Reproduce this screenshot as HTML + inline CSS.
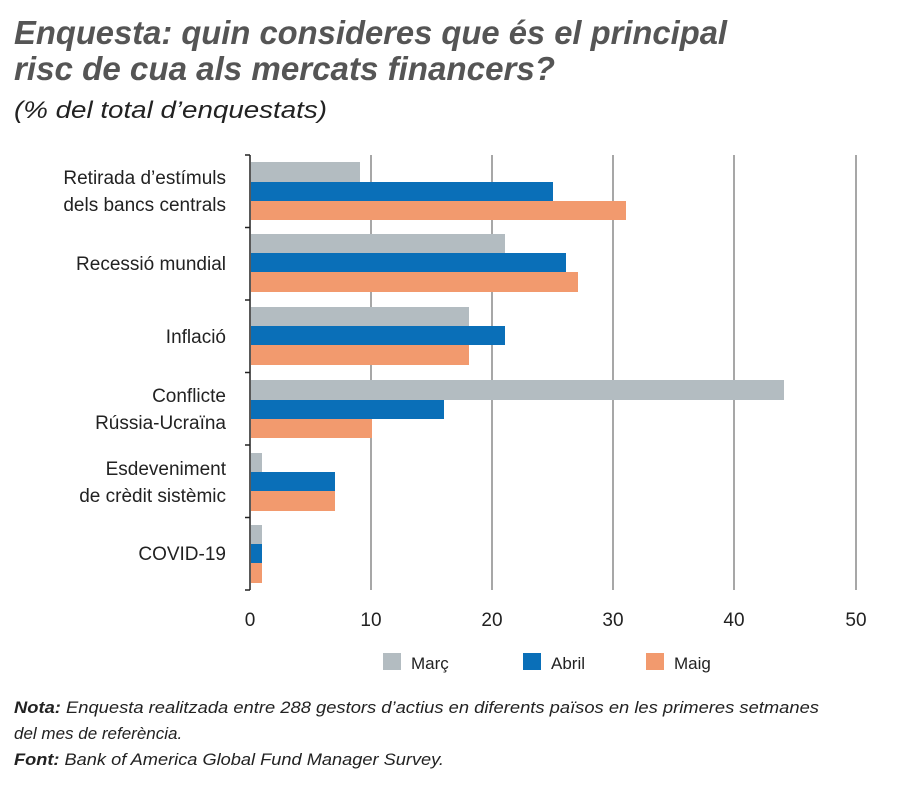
<!DOCTYPE html>
<html><head><meta charset="utf-8"><style>
body{margin:0;width:900px;height:789px;background:#fff;overflow:hidden;font-family:"Liberation Sans",sans-serif;}
</style></head><body>
<svg width="900" height="789" xmlns="http://www.w3.org/2000/svg" font-family="Liberation Sans, sans-serif">
<text x="14" y="44" font-size="33" font-weight="bold" font-style="italic" fill="#555" textLength="713" lengthAdjust="spacingAndGlyphs">Enquesta: quin consideres que és el principal</text>
<text x="14" y="80" font-size="33" font-weight="bold" font-style="italic" fill="#555" textLength="541" lengthAdjust="spacingAndGlyphs">risc de cua als mercats financers?</text>
<text x="14" y="118" font-size="24" font-style="italic" fill="#222" textLength="313" lengthAdjust="spacingAndGlyphs">(% del total d’enquestats)</text>
<g stroke="#8a8a8a" stroke-width="1.5">
<line x1="371" y1="155" x2="371" y2="590"/><line x1="492" y1="155" x2="492" y2="590"/>
<line x1="613" y1="155" x2="613" y2="590"/><line x1="734" y1="155" x2="734" y2="590"/>
<line x1="856" y1="155" x2="856" y2="590"/>
</g>
<g>
<rect x="251" y="162" width="109" height="20" fill="#b3bcc1"/>
<rect x="251" y="182" width="302" height="19" fill="#0a6fb8"/>
<rect x="251" y="201" width="375" height="19" fill="#f29a6e"/>
<rect x="251" y="234" width="254" height="19" fill="#b3bcc1"/>
<rect x="251" y="253" width="315" height="19" fill="#0a6fb8"/>
<rect x="251" y="272" width="327" height="20" fill="#f29a6e"/>
<rect x="251" y="307" width="218" height="19" fill="#b3bcc1"/>
<rect x="251" y="326" width="254" height="19" fill="#0a6fb8"/>
<rect x="251" y="345" width="218" height="20" fill="#f29a6e"/>
<rect x="251" y="380" width="533" height="20" fill="#b3bcc1"/>
<rect x="251" y="400" width="193" height="19" fill="#0a6fb8"/>
<rect x="251" y="419" width="121" height="19" fill="#f29a6e"/>
<rect x="251" y="453" width="11" height="19" fill="#b3bcc1"/>
<rect x="251" y="472" width="84" height="19" fill="#0a6fb8"/>
<rect x="251" y="491" width="84" height="20" fill="#f29a6e"/>
<rect x="251" y="525" width="11" height="19" fill="#b3bcc1"/>
<rect x="251" y="544" width="11" height="19" fill="#0a6fb8"/>
<rect x="251" y="563" width="11" height="20" fill="#f29a6e"/>
</g>
<g stroke="#222" stroke-width="1.5">
<line x1="250" y1="155" x2="250" y2="590"/>
<line x1="245" y1="155" x2="250" y2="155"/><line x1="245" y1="227.5" x2="250" y2="227.5"/>
<line x1="245" y1="300" x2="250" y2="300"/><line x1="245" y1="372.5" x2="250" y2="372.5"/>
<line x1="245" y1="445" x2="250" y2="445"/><line x1="245" y1="517.5" x2="250" y2="517.5"/>
<line x1="245" y1="590" x2="250" y2="590"/>
</g>
<g font-size="19" fill="#222" text-anchor="end">
<text x="226" y="184">Retirada d’estímuls</text><text x="226" y="211">dels bancs centrals</text>
<text x="226" y="270">Recessió mundial</text>
<text x="226" y="343">Inflació</text>
<text x="226" y="402">Conflicte</text><text x="226" y="429">Rússia-Ucraïna</text>
<text x="226" y="475">Esdeveniment</text><text x="226" y="502">de crèdit sistèmic</text>
<text x="226" y="560">COVID-19</text>
</g>
<g font-size="19" fill="#222" text-anchor="middle">
<text x="250" y="626">0</text><text x="371" y="626">10</text><text x="492" y="626">20</text>
<text x="613" y="626">30</text><text x="734" y="626">40</text><text x="856" y="626">50</text>
</g>
<rect x="383" y="653" width="18" height="17" fill="#b3bcc1"/>
<text x="411" y="669" font-size="17" fill="#222">Març</text>
<rect x="523" y="653" width="18" height="17" fill="#0a6fb8"/>
<text x="551" y="669" font-size="17" fill="#222">Abril</text>
<rect x="646" y="653" width="18" height="17" fill="#f29a6e"/>
<text x="674" y="669" font-size="17" fill="#222">Maig</text>
<g font-size="17" font-style="italic" fill="#222">
<text x="14" y="713" textLength="805" lengthAdjust="spacingAndGlyphs"><tspan font-weight="bold">Nota:</tspan> Enquesta realitzada entre 288 gestors d’actius en diferents països en les primeres setmanes</text>
<text x="14" y="739">del mes de referència.</text>
<text x="14" y="765" textLength="430" lengthAdjust="spacingAndGlyphs"><tspan font-weight="bold">Font:</tspan> Bank of America Global Fund Manager Survey.</text>
</g>
</svg>
</body></html>
